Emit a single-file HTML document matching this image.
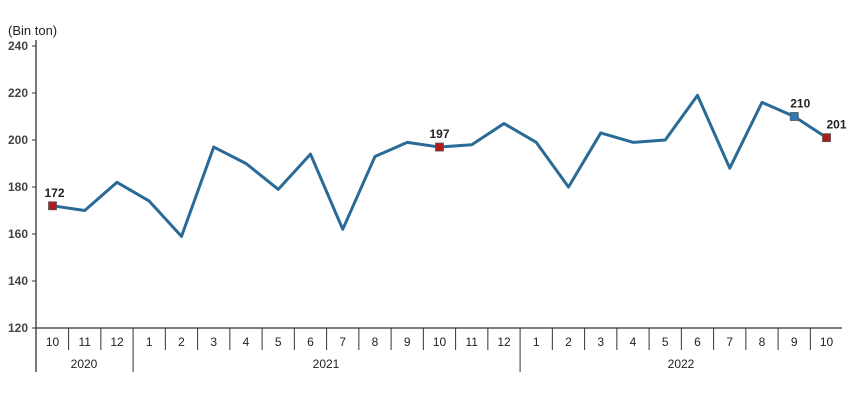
<!DOCTYPE html>
<html><head><meta charset="utf-8"><style>
body{margin:0;background:#fff;width:850px;height:400px;overflow:hidden}
text{font-family:"Liberation Sans",Arial,sans-serif;font-size:12px;fill:#222}
</style></head><body>
<svg id="s" width="850" height="400" xmlns="http://www.w3.org/2000/svg"></svg>
<script>
const s=document.getElementById('s');
const v=[172,170,182,174,159,197,190,179,194,162,193,199,197,198,207,199,180,203,199,200,219,188,216,210,201];
const m=[10,11,12,1,2,3,4,5,6,7,8,9,10,11,12,1,2,3,4,5,6,7,8,9,10];
const X=i=>52.5+i*32.25, Y=val=>328-(val-120)*2.35;
let h='';
h+='<text x="8" y="35" style="font-size:13px">(Bin ton)</text>';
h+='<line x1="36" y1="40" x2="36" y2="372" stroke="#333" stroke-width="1.3"/>';
for(let t=120;t<=240;t+=20){const y=Y(t);h+=`<line x1="32" y1="${y}" x2="36" y2="${y}" stroke="#333"/><text x="28" y="${y+4}" text-anchor="end" style="font-weight:bold;fill:#444">${t}</text>`;}
h+='<line x1="36" y1="328" x2="842" y2="328" stroke="#333" stroke-width="1.3"/>';
for(let i=0;i<25;i++){const x=X(i);h+=`<text x="${x}" y="346" text-anchor="middle">${m[i]}</text>`;
 if(i<24){const sx=x+16.1;const yr=(i==2||i==14);h+=`<line x1="${sx}" y1="328" x2="${sx}" y2="${yr?372:350}" stroke="#333"/>`;}}
h+=`<text x="84" y="368" text-anchor="middle">2020</text><text x="326" y="368" text-anchor="middle">2021</text><text x="681" y="368" text-anchor="middle">2022</text>`;
h+=`<polyline fill="none" stroke="#2a6a96" stroke-width="3" stroke-linejoin="round" points="${v.map((a,i)=>X(i)+','+Y(a)).join(' ')}"/>`;
const mk=(i,c,lx,ly)=>{const x=X(i),y=Y(v[i]);h+=`<rect x="${x-4}" y="${y-4}" width="8" height="8" fill="${c}" stroke="#555" stroke-width="0.8"/><text x="${x+lx}" y="${y+ly}" text-anchor="middle" style="font-weight:bold">${v[i]}</text>`;};
mk(0,'#b01c1c',2,-9);mk(12,'#b01c1c',0,-9);mk(23,'#2a7ac0',6,-9);mk(24,'#b01c1c',10,-9);
s.innerHTML=h;
</script>
</body></html>
